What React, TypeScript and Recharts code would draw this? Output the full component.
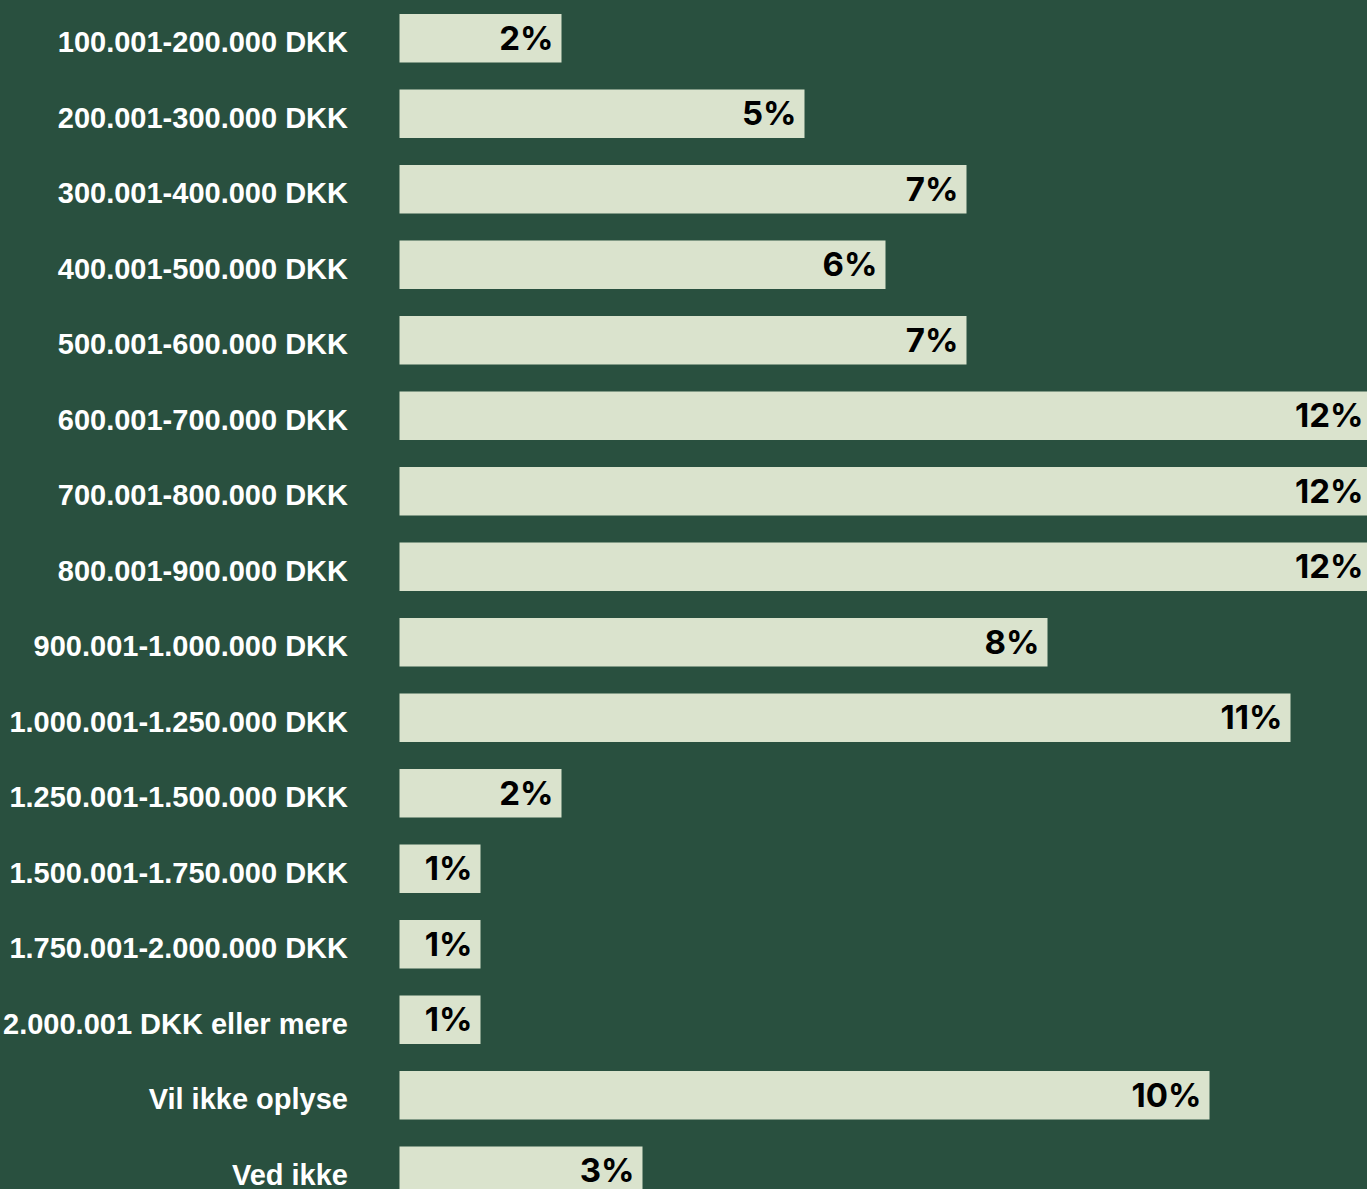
import React from "react";
import { BarChart, Bar, XAxis, YAxis, LabelList } from "recharts";

const categories = [
  "100.001-200.000 DKK",
  "200.001-300.000 DKK",
  "300.001-400.000 DKK",
  "400.001-500.000 DKK",
  "500.001-600.000 DKK",
  "600.001-700.000 DKK",
  "700.001-800.000 DKK",
  "800.001-900.000 DKK",
  "900.001-1.000.000 DKK",
  "1.000.001-1.250.000 DKK",
  "1.250.001-1.500.000 DKK",
  "1.500.001-1.750.000 DKK",
  "1.750.001-2.000.000 DKK",
  "2.000.001 DKK eller mere",
  "Vil ikke oplyse",
  "Ved ikke",
];

const values = [2, 5, 7, 6, 7, 12, 12, 12, 8, 11, 2, 1, 1, 1, 10, 3];

const data = categories.map((name, i) => ({ name, value: values[i] }));

const BG = "#29503f";
const BAR = "#dae3cd";
const TICK_FONT = "'Liberation Sans', Arial, sans-serif";
const VALUE_FONT = "Inter, 'Noto Sans', sans-serif";

const YTick = (props: any) => {
  const { x, y, payload } = props;
  return (
    <text
      x={x}
      y={y}
      dy={14.5}
      textAnchor="end"
      fill="#ffffff"
      fontFamily={TICK_FONT}
      fontWeight={700}
      fontSize={29}
    >
      {payload.value}
    </text>
  );
};

export default function App() {
  return (
    <div
      style={{
        position: "absolute",
        left: 0,
        top: 0,
        width: 1367,
        height: 1189,
        overflow: "hidden",
        background: BG,
      }}
    >
      <BarChart
        width={1400}
        height={1208}
        data={data}
        layout="vertical"
        margin={{ top: 0, right: 28.5, bottom: 0, left: 0 }}
      >
        <XAxis type="number" domain={[0, 12]} hide />
        <YAxis
          type="category"
          dataKey="name"
          width={399.5}
          axisLine={false}
          tickLine={false}
          tickSize={0}
          tickMargin={51.5}
          interval={0}
          tick={<YTick />}
        />
        <Bar dataKey="value" fill={BAR} barSize={48.5} isAnimationActive={false}>
          <LabelList
            dataKey="value"
            position="insideRight"
            offset={8}
            formatter={(v: any) => `${v}%`}
            fill="#000000"
            fontFamily={VALUE_FONT}
            fontWeight={700}
            fontSize={33}
          />
        </Bar>
      </BarChart>
    </div>
  );
}
